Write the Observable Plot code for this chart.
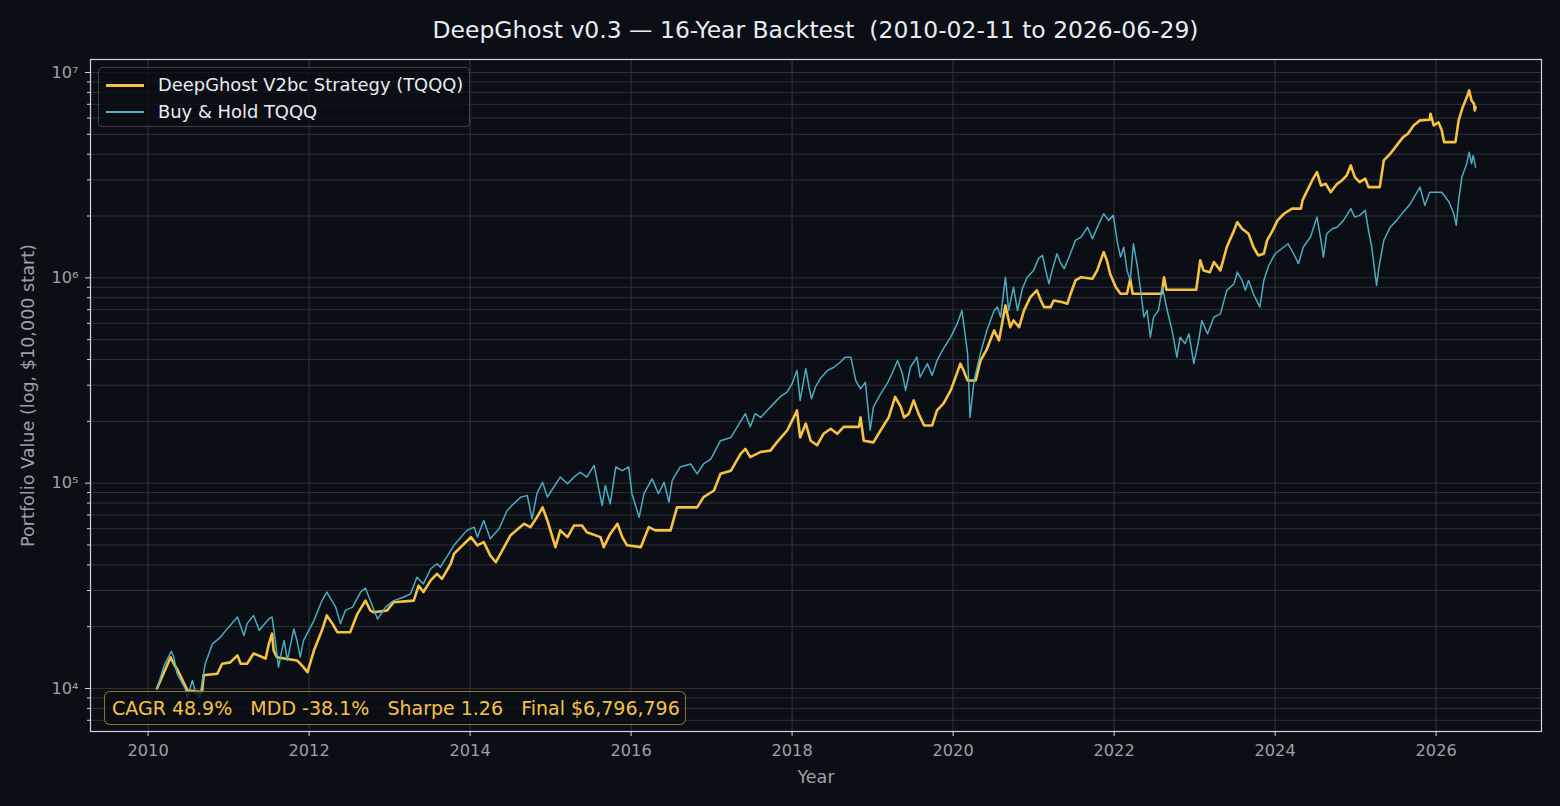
<!DOCTYPE html>
<html>
<head>
<meta charset="utf-8">
<script src="https://cdn.jsdelivr.net/npm/d3@7"></script>
<script src="https://cdn.jsdelivr.net/npm/@observablehq/plot@0.6"></script>
<style>
  html, body { margin: 0; padding: 0; background: #0b0e14; }
  #wrap { position: relative; width: 1560px; height: 806px; background: #0b0e14; overflow: hidden;
          font-family: "DejaVu Sans", sans-serif; }
  #title { position: absolute; left: 90px; width: 1451px; top: 0; height: 60px; line-height: 60px;
           text-align: center; color: #e6edf3; font-size: 23.45px; white-space: pre; }
  #chart { position: absolute; left: 0; top: 50px; }
  #legend { position: absolute; left: 98px; top: 67px; width: 370px; height: 58px;
            border: 1px solid #3d424a; border-radius: 4px; background: rgba(11, 14, 20, 0.8); }
  .item { position: absolute; left: 0; width: 100%; height: 24px; }
  .swatch { position: absolute; left: 7px; width: 38px; height: 0; }
  .item span.lab { position: absolute; left: 59px; top: 0; line-height: 24px; color: #e6edf3;
                   font-size: 17.9px; white-space: pre; }
  #stats { position: absolute; left: 104px; top: 691px; width: 573px; height: 32px;
           border: 1.3px solid rgba(245, 194, 66, 0.55); border-radius: 6px;
           background: rgba(11, 14, 20, 0.8); color: #f5c242; font-size: 19px;
           line-height: 32px; padding-left: 7px; box-sizing: content-box; white-space: pre; }
</style>
</head>
<body>
<div id="wrap">
  <div id="title"></div>
  <div id="chart"></div>
  <div id="legend"></div>
  <div id="stats"></div>
</div>
<script>
// ---- Series: DeepGhost strategy (decimal year, portfolio value in $) ----
const strategyYears = [
  2010.11, 2010.28, 2010.32, 2010.38, 2010.49, 2010.67, 2010.69, 2010.86, 2010.92, 2011.02,
  2011.11, 2011.15, 2011.23, 2011.31, 2011.46, 2011.50, 2011.54, 2011.56, 2011.60, 2011.85,
  2011.93, 2011.98, 2012.06, 2012.16, 2012.22, 2012.29, 2012.35, 2012.51, 2012.60, 2012.70,
  2012.76, 2012.80, 2012.97, 2013.05, 2013.30, 2013.36, 2013.42, 2013.51, 2013.59, 2013.65,
  2013.76, 2013.80, 2014.01, 2014.09, 2014.17, 2014.25, 2014.32, 2014.40, 2014.50, 2014.67,
  2014.75, 2014.83, 2014.90, 2014.96, 2015.06, 2015.12, 2015.21, 2015.29, 2015.39, 2015.45,
  2015.62, 2015.66, 2015.74, 2015.83, 2015.89, 2015.95, 2016.12, 2016.22, 2016.30, 2016.49,
  2016.57, 2016.82, 2016.90, 2017.03, 2017.11, 2017.24, 2017.36, 2017.42, 2017.48, 2017.61,
  2017.73, 2017.81, 2017.94, 2018.02, 2018.06, 2018.10, 2018.17, 2018.23, 2018.31, 2018.39,
  2018.48, 2018.56, 2018.64, 2018.83, 2018.85, 2018.89, 2019.01, 2019.10, 2019.20, 2019.28,
  2019.35, 2019.39, 2019.45, 2019.51, 2019.57, 2019.64, 2019.74, 2019.80, 2019.88, 2019.97,
  2020.03, 2020.09, 2020.13, 2020.18, 2020.28, 2020.34, 2020.42, 2020.51, 2020.57, 2020.65,
  2020.71, 2020.75, 2020.82, 2020.88, 2020.96, 2021.04, 2021.09, 2021.13, 2021.21, 2021.25,
  2021.35, 2021.42, 2021.46, 2021.52, 2021.59, 2021.73, 2021.79, 2021.87, 2021.91, 2021.95,
  2022.02, 2022.08, 2022.16, 2022.20, 2022.23, 2022.59, 2022.62, 2022.65, 2023.02, 2023.07,
  2023.11, 2023.19, 2023.24, 2023.32, 2023.40, 2023.49, 2023.53, 2023.59, 2023.67, 2023.73,
  2023.79, 2023.86, 2023.90, 2023.97, 2024.03, 2024.11, 2024.21, 2024.32, 2024.34, 2024.40,
  2024.46, 2024.52, 2024.57, 2024.63, 2024.69, 2024.77, 2024.83, 2024.89, 2024.94, 2024.99,
  2025.05, 2025.12, 2025.16, 2025.30, 2025.35, 2025.43, 2025.51, 2025.59, 2025.65, 2025.72,
  2025.80, 2025.92, 2025.93, 2025.97, 2026.03, 2026.07, 2026.10, 2026.24, 2026.28, 2026.33,
  2026.39, 2026.41, 2026.44, 2026.47, 2026.48, 2026.49
];
const strategyValues = [
  10000, 14200, 13200, 12000, 9780, 9600, 11600, 11800, 13200, 13400,
  14500, 13200, 13200, 14800, 14000, 16500, 18500, 15300, 14200, 13700,
  12700, 12000, 15300, 19200, 22700, 20700, 18800, 18800, 23100, 26800,
  24000, 23500, 24000, 26300, 26800, 31700, 29500, 33600, 36200, 34200,
  40500, 45300, 54600, 49800, 51600, 44500, 41200, 47000, 55600, 63400,
  61100, 68200, 76200, 65800, 48800, 58900, 54600, 62200, 62200, 57700,
  54600, 48800, 56600, 63400, 54600, 49800, 48800, 61100, 58900, 58900,
  76200, 76200, 85500, 92100, 111000, 115000, 139000, 147000, 134000, 142000,
  144000, 158000, 181000, 209000, 226000, 167000, 195000, 161000, 153000, 174000,
  184000, 174000, 188000, 188000, 209000, 161000, 158000, 181000, 209000, 263000,
  235000, 209000, 218000, 253000, 218000, 191000, 191000, 226000, 244000, 283000,
  328000, 382000, 354000, 316000, 316000, 395000, 450000, 555000, 496000, 734000,
  575000, 620000, 575000, 693000, 805000, 869000, 776000, 720000, 720000, 776000,
  762000, 748000, 837000, 971000, 1007000, 990000, 1087000, 1335000, 1216000, 1047000,
  902000, 837000, 837000, 990000, 837000, 837000, 1007000, 875000, 875000, 1216000,
  1087000, 1066000, 1194000, 1087000, 1413000, 1703000, 1867000, 1734000, 1639000, 1413000,
  1285000, 1310000, 1522000, 1703000, 1905000, 2052000, 2173000, 2173000, 2383000, 2667000,
  2980000, 3272000, 2817000, 2870000, 2612000, 2870000, 2980000, 3155000, 3531000, 3096000,
  2925000, 3040000, 2766000, 2766000, 3734000, 4020000, 4417000, 4845000, 5034000, 5525000,
  5845000, 5890000, 6300000, 5525000, 5716000, 5226000, 4579000, 4579000, 5845000, 6780000,
  7720000, 8180000, 7310000, 7050000, 6530000, 6796796
];

// ---- Series: buy & hold TQQQ (decimal year, portfolio value in $) ----
const holdYears = [
  2010.11, 2010.20, 2010.29, 2010.32, 2010.36, 2010.46, 2010.49, 2010.55, 2010.59, 2010.64,
  2010.71, 2010.80, 2010.90, 2011.00, 2011.11, 2011.19, 2011.23, 2011.31, 2011.38, 2011.50,
  2011.54, 2011.58, 2011.62, 2011.67, 2011.69, 2011.73, 2011.81, 2011.85, 2011.89, 2011.93,
  2012.06, 2012.16, 2012.22, 2012.33, 2012.39, 2012.45, 2012.54, 2012.64, 2012.70, 2012.76,
  2012.85, 2012.95, 2013.05, 2013.18, 2013.26, 2013.34, 2013.42, 2013.51, 2013.59, 2013.63,
  2013.80, 2013.96, 2014.05, 2014.09, 2014.17, 2014.25, 2014.36, 2014.46, 2014.54, 2014.63,
  2014.71, 2014.77, 2014.83, 2014.90, 2014.96, 2015.04, 2015.12, 2015.21, 2015.29, 2015.37,
  2015.45, 2015.54, 2015.64, 2015.68, 2015.74, 2015.81, 2015.89, 2015.97, 2016.01, 2016.10,
  2016.16, 2016.26, 2016.34, 2016.41, 2016.47, 2016.51, 2016.61, 2016.74, 2016.82, 2016.90,
  2016.99, 2017.11, 2017.24, 2017.36, 2017.42, 2017.48, 2017.54, 2017.61, 2017.69, 2017.77,
  2017.85, 2017.94, 2018.00, 2018.06, 2018.10, 2018.17, 2018.21, 2018.24, 2018.29, 2018.35,
  2018.44, 2018.52, 2018.60, 2018.66, 2018.73, 2018.79, 2018.85, 2018.91, 2018.97, 2019.01,
  2019.10, 2019.18, 2019.24, 2019.31, 2019.37, 2019.41, 2019.47, 2019.55, 2019.59, 2019.68,
  2019.74, 2019.80, 2019.88, 2019.97, 2020.05, 2020.11, 2020.18, 2020.21, 2020.26, 2020.34,
  2020.42, 2020.51, 2020.55, 2020.59, 2020.65, 2020.69, 2020.75, 2020.80, 2020.86, 2020.92,
  2021.00, 2021.06, 2021.11, 2021.15, 2021.19, 2021.23, 2021.29, 2021.33, 2021.38, 2021.44,
  2021.52, 2021.59, 2021.67, 2021.73, 2021.81, 2021.87, 2021.93, 2021.99, 2022.04, 2022.08,
  2022.12, 2022.16, 2022.20, 2022.24, 2022.29, 2022.33, 2022.37, 2022.41, 2022.45, 2022.49,
  2022.55, 2022.60, 2022.66, 2022.72, 2022.78, 2022.82, 2022.88, 2022.93, 2022.99, 2023.05,
  2023.09, 2023.16, 2023.24, 2023.32, 2023.40, 2023.49, 2023.53, 2023.59, 2023.63, 2023.67,
  2023.73, 2023.81, 2023.86, 2023.92, 2024.00, 2024.08, 2024.16, 2024.23, 2024.29, 2024.35,
  2024.44, 2024.52, 2024.57, 2024.60, 2024.64, 2024.71, 2024.77, 2024.85, 2024.94, 2024.99,
  2025.05, 2025.12, 2025.16, 2025.20, 2025.26, 2025.29, 2025.35, 2025.43, 2025.51, 2025.59,
  2025.68, 2025.80, 2025.86, 2025.92, 2026.01, 2026.07, 2026.16, 2026.22, 2026.25, 2026.28,
  2026.32, 2026.38, 2026.41, 2026.44, 2026.46, 2026.49
];
const holdValues = [
  10000, 12950, 15200, 14200, 11800, 10000, 9070, 10940, 9600, 9070,
  13200, 16500, 17800, 19900, 22300, 18100, 20700, 22700, 19200, 21800,
  22300, 17100, 12700, 15900, 17100, 13700, 19500, 17100, 14200, 17100,
  21400, 26800, 29500, 24900, 20700, 24000, 24900, 29500, 30800, 26800,
  21800, 24900, 26800, 27900, 28900, 34800, 32300, 38300, 40500, 39000,
  49800, 58900, 61100, 54600, 65800, 53600, 60000, 73600, 79300, 85500,
  87100, 67000, 88900, 101000, 85500, 95800, 107000, 99300, 107000, 113000,
  107000, 122000, 77800, 97500, 79300, 120000, 115000, 120000, 88900, 68200,
  88900, 105000, 88900, 101000, 80800, 103000, 120000, 124000, 111000, 124000,
  131000, 161000, 167000, 200000, 218000, 188000, 218000, 209000, 226000, 244000,
  263000, 278000, 305000, 354000, 253000, 361000, 294000, 258000, 294000, 323000,
  354000, 367000, 389000, 411000, 411000, 316000, 288000, 310000, 181000, 235000,
  272000, 305000, 341000, 396000, 341000, 283000, 367000, 411000, 328000, 382000,
  335000, 396000, 452000, 514000, 597000, 693000, 427000, 209000, 316000, 430000,
  555000, 693000, 720000, 644000, 1007000, 693000, 902000, 693000, 885000, 1007000,
  1087000, 1240000, 1286000, 1087000, 935000, 1087000, 1310000, 1194000, 1107000, 1262000,
  1522000, 1580000, 1765000, 1550000, 1832000, 2052000, 1905000, 2015000, 1494000, 1262000,
  1410000, 1087000, 971000, 1466000, 1128000, 869000, 644000, 693000, 514000, 644000,
  693000, 902000, 693000, 555000, 411000, 514000, 478000, 534000, 382000, 496000,
  620000, 534000, 644000, 668000, 869000, 936000, 1066000, 971000, 869000, 971000,
  837000, 720000, 971000, 1148000, 1310000, 1386000, 1466000, 1310000, 1172000, 1413000,
  1580000, 1976000, 1522000, 1262000, 1639000, 1734000, 1765000, 1905000, 2173000, 1976000,
  2015000, 2130000, 1703000, 1413000, 918000, 1128000, 1522000, 1765000, 1905000, 2089000,
  2298000, 2766000, 2254000, 2612000, 2612000, 2612000, 2339000, 2052000, 1799000, 2383000,
  3096000, 3597000, 4093000, 3597000, 3945000, 3460000
];

// ---- Labels ----
const seriesNames = ["DeepGhost V2bc Strategy (TQQQ)", "Buy & Hold TQQQ"];
const statNames = ["CAGR", "MDD", "Sharpe", "Final"];
const statValues = ["48.9%", "-38.1%", "1.26"];
const xTickYears = [2010, 2012, 2014, 2016, 2018, 2020, 2022, 2024, 2026];
const yTickMajor = [1e4, 1e5, 1e6, 1e7];
const titleText = "DeepGhost v0.3 \u2014 16-Year Backtest  (2010-02-11 to 2026-06-29)";
const xLabel = "Year";
const yLabel = "Portfolio Value (log, $10,000 start)";

// ---- Styling ----
const GOLD = "#f5c242";
const CYAN = "#4fb4c8";
const GRID = "#2e3239";
const FRAME = "#d2d6db";
const MUTED = "#9ba1a9";
const GOLD_W = 2.6;
const CYAN_W = 1.5;

const strategy = strategyYears.map((year, i) => ({year, value: strategyValues[i]}));
const hold = holdYears.map((year, i) => ({year, value: holdValues[i]}));

const yDomain = [6174, 1.157e7];
// every 1..9 x 10^k inside the y domain, for the horizontal grid and minor ticks
const yTickAll = [];
for (let k = 3; k <= 7; k++) for (let m = 1; m <= 9; m++) {
  const v = m * 10 ** k;
  if (v >= yDomain[0] && v <= yDomain[1]) yTickAll.push(v);
}
const yTickMinor = yTickAll.filter(v => !yTickMajor.includes(v));
const supDigits = {"0":"\u2070","1":"\u00b9","2":"\u00b2","3":"\u00b3","4":"\u2074","5":"\u2075","6":"\u2076","7":"\u2077","8":"\u2078","9":"\u2079"};
const powerLabel = v => "10" + String(Math.round(Math.log10(v))).split("").map(c => supDigits[c]).join("");

const chart = Plot.plot({
  width: 1560,
  height: 756,
  marginLeft: 90,
  marginRight: 19,
  marginTop: 9,
  marginBottom: 75,
  style: {background: "transparent", color: MUTED, fontFamily: "DejaVu Sans, sans-serif", fontSize: "16.2px"},
  x: {domain: [2009.2845, 2027.309]},
  y: {type: "log", domain: yDomain},
  marks: [
    Plot.ruleY(yTickAll, {stroke: GRID, strokeWidth: 1}),
    Plot.ruleX(xTickYears, {stroke: "#33373e", strokeWidth: 1}),
    Plot.line(strategy, {x: "year", y: "value", stroke: GOLD, strokeWidth: GOLD_W, strokeLinejoin: "round"}),
    Plot.line(hold, {x: "year", y: "value", stroke: CYAN, strokeWidth: CYAN_W, strokeOpacity: 0.95, strokeLinejoin: "round"}),
    Plot.frame({stroke: FRAME, strokeWidth: 1.2}),
    Plot.axisX({ticks: xTickYears, tickFormat: d => String(d), tickSize: 5, tickPadding: 8,
                label: null, stroke: FRAME, fill: MUTED}),
    Plot.axisY({ticks: yTickMajor, tickFormat: powerLabel, tickSize: 5, tickPadding: 7,
                label: null, stroke: FRAME, fill: MUTED}),
    Plot.axisY({ticks: yTickMinor, tickFormat: () => "", tickSize: 3, label: null, stroke: FRAME}),
    Plot.text([xLabel], {frameAnchor: "bottom", dy: 51, fill: MUTED, fontSize: 17.6}),
    Plot.text([yLabel], {frameAnchor: "left", dx: -62, rotate: -90, textAnchor: "middle",
                         fill: MUTED, fontSize: 17.6})
  ]
});
document.getElementById("chart").appendChild(chart);

document.getElementById("title").textContent = titleText;

// legend: short line samples drawn as borders so they keep their full thickness
const legend = document.getElementById("legend");
[[seriesNames[0], GOLD, 3, 5], [seriesNames[1], CYAN, 2, 32]].forEach(([name, color, w, top]) => {
  const item = document.createElement("div");
  item.className = "item";
  item.style.top = top + "px";
  const sw = document.createElement("div");
  sw.className = "swatch";
  sw.style.top = Math.round(12 - w / 2) + "px";
  sw.style.borderTop = w + "px solid " + color;
  const lab = document.createElement("span");
  lab.className = "lab";
  lab.textContent = name;
  item.appendChild(sw);
  item.appendChild(lab);
  legend.appendChild(item);
});

// summary statistics
const finalValue = d3.format("$,")(strategyValues[strategyValues.length - 1]);
const statParts = statNames.map((n, i) => n + " " + (i < statValues.length ? statValues[i] : finalValue));
document.getElementById("stats").textContent = statParts.join("   ");
</script>
</body>
</html>
